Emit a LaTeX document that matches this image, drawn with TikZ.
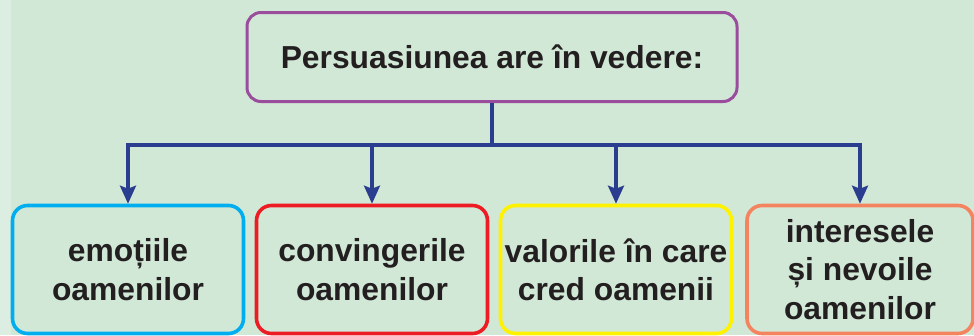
\documentclass[tikz,border=0pt]{standalone}
\usepackage{fontspec}
\setmainfont{Liberation Sans}
\usetikzlibrary{arrows.meta}

\definecolor{paper}{RGB}{209,232,214}
\definecolor{paperpale}{RGB}{220,238,225}
\definecolor{ink}{RGB}{35,31,32}
\definecolor{navy}{RGB}{42,61,143}
\definecolor{lilac}{RGB}{154,76,157}
\definecolor{skyline}{RGB}{0,174,239}
\definecolor{redline}{RGB}{237,28,36}
\definecolor{yellowline}{RGB}{255,242,0}
\definecolor{salmon}{RGB}{244,132,95}

\begin{document}
\begin{tikzpicture}[x=1pt,y=-1pt,
  every node/.style={font=\fontsize{31.8}{38.3}\selectfont\bfseries, text=ink},
  box/.style={draw, line width=3.6pt, rounded corners=15pt, align=center,
    minimum width=231pt, minimum height=128pt, inner sep=0pt},
  link/.style={draw=navy, line width=3.2pt},
  tip/.style={link, -{Stealth[length=18pt,width=16pt,inset=3pt]}}]

\useasboundingbox (0,0) rectangle (974,335);
\fill[paper] (0,0) rectangle (974,335);
\fill[paperpale] (0,0) rectangle (11,335);

\begin{scope}
\clip (0,0) rectangle (974,335);

% title box
\node[box, draw=lilac, line width=3pt, rounded corners=14pt,
  minimum width=490pt, minimum height=89pt] (head) at (492,57)
  {Persuasiunea are în vedere:};

% the four boxes
\node[box, draw=skyline] (emo) at (128,269.5) {emoțiile\\oamenilor};
\node[box, draw=redline] (conv) at (372,269.5) {convingerile\\oamenilor};
\node[box, draw=yellowline] (val) at (616,269.5) {valorile în care\\cred oamenii};
\node[box, draw=salmon, minimum width=226pt] (want) at (860,269.5)
  {interesele\\și nevoile\\oamenilor};

% connectors
\coordinate (hub) at (492,145);
\draw[link] (head.south) -- (hub);
\foreach \b in {emo,conv,val,want}
  \draw[tip] (hub) -| (\b.north);
\end{scope}
\end{tikzpicture}
\end{document}
